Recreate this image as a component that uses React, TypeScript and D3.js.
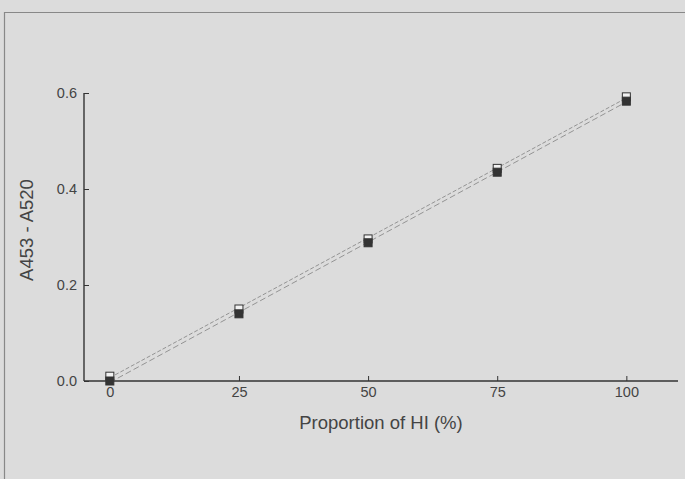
import React, { useEffect, useRef } from "react";
import * as d3 from "d3";

// values
const proportions = [0, 25, 50, 75, 100];
const openSeries = [0.01, 0.15, 0.296, 0.443, 0.592];
const filledSeries = [0.0, 0.14, 0.288, 0.435, 0.583];
const xTicks = [0, 25, 50, 75, 100];
const yTicks = [0.0, 0.2, 0.4, 0.6];

const W = 685;
const H = 479;

function fit(xs: number[], ys: number[]) {
  const mx = d3.mean(xs) as number;
  const my = d3.mean(ys) as number;
  let num = 0, den = 0;
  xs.forEach((x, i) => { num += (x - mx) * (ys[i] - my); den += (x - mx) * (x - mx); });
  const b = num / den;
  return { a: my - b * mx, b };
}

export default function App() {
  const ref = useRef<SVGSVGElement>(null);

  useEffect(() => {
    const svg = d3.select(ref.current);
    svg.selectAll("*").remove();

    svg.append("rect").attr("width", W).attr("height", H).attr("fill", "#dcdcdc");
    // scan frame
    svg.append("path")
      .attr("d", `M4.5,${H} V12.5 H${W}`)
      .attr("fill", "none").attr("stroke", "#888").attr("stroke-width", 1.2);

    const x = d3.scaleLinear().domain([-5, 110]).range([84, 678]);
    const y = d3.scaleLinear().domain([0, 0.6]).range([381, 93]);

    const ink = "#333";
    const font = "Liberation Sans, Arial, sans-serif";

    // y axis, ticks pointing inward
    const yAxis = svg.append("g").attr("transform", `translate(${x(-5)},0)`)
      .call(d3.axisRight(y).tickValues(yTicks).tickSize(5).tickFormat(d3.format(".1f")));
    yAxis.attr("font-size", null).attr("font-family", null);
    yAxis.select(".domain").attr("stroke", ink).attr("stroke-width", 1.4).attr("d", `M0,${y(0.6)}V${y(0)}`);
    yAxis.selectAll(".tick line").attr("stroke", ink);
    yAxis.selectAll(".tick text")
      .attr("x", -7).attr("text-anchor", "end").attr("fill", "#444")
      .attr("font-family", font).attr("font-size", 14.5);

    // x axis, ticks pointing upward
    const xAxis = svg.append("g").attr("transform", `translate(0,${y(0)})`)
      .call(d3.axisTop(x).tickValues(xTicks).tickSize(5));
    xAxis.attr("font-size", null).attr("font-family", null);
    xAxis.select(".domain").attr("stroke", ink).attr("stroke-width", 1.4).attr("d", `M${x(-5)},0H${x(110)}`);
    xAxis.selectAll(".tick line").attr("stroke", ink);
    xAxis.selectAll(".tick text")
      .attr("y", 16).attr("dy", "0").attr("fill", "#444")
      .attr("font-family", font).attr("font-size", 14.5);

    // regression lines
    [openSeries, filledSeries].forEach((s, k) => {
      const { a, b } = fit(proportions, s);
      svg.append("line")
        .attr("x1", x(0)).attr("y1", y(a))
        .attr("x2", x(100)).attr("y2", y(a + b * 100))
        .attr("stroke", "#808080").attr("stroke-width", 0.8)
        .attr("stroke-dasharray", k === 0 ? "4,2" : "6,3");
    });

    const sz = 8;
    svg.selectAll(".open").data(proportions).enter().append("rect")
      .attr("x", (d) => x(d) - sz / 2).attr("y", (d, i) => y(openSeries[i]) - sz / 2)
      .attr("width", sz).attr("height", sz)
      .attr("fill", "#f2f2f2").attr("stroke", ink).attr("stroke-width", 1);
    svg.selectAll(".filled").data(proportions).enter().append("rect")
      .attr("x", (d) => x(d) - sz / 2).attr("y", (d, i) => y(filledSeries[i]) - sz / 2)
      .attr("width", sz).attr("height", sz)
      .attr("fill", "#333").attr("stroke", ink).attr("stroke-width", 1);

    svg.append("text")
      .attr("transform", `translate(33,230) rotate(-90)`)
      .attr("text-anchor", "middle").attr("fill", "#444")
      .style("font-family", font).style("font-size", "18.5px")
      .text("A453 - A520");

    svg.append("text")
      .attr("x", 381).attr("y", 429)
      .attr("text-anchor", "middle").attr("fill", "#444")
      .style("font-family", font).style("font-size", "18.5px")
      .text("Proportion of HI (%)");
  }, []);

  return (
    <svg ref={ref} width={W} height={H}
      style={{ position: "absolute", left: 0, top: 0, display: "block" }} />
  );
}
